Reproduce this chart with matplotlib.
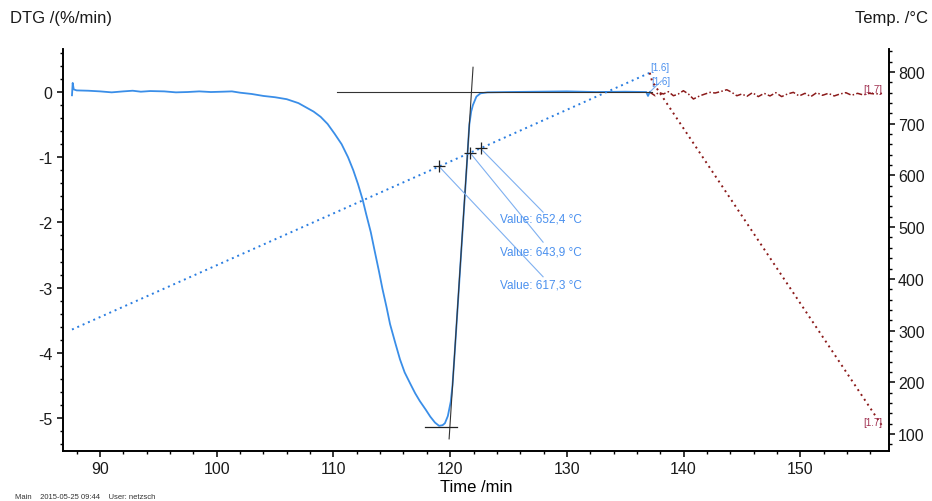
import matplotlib
matplotlib.use("Agg")
import matplotlib.pyplot as plt
from matplotlib.ticker import MultipleLocator

plt.rcParams['font.family'] = ['Liberation Sans', 'DejaVu Sans']
plt.rcParams['axes.unicode_minus'] = False

# DTG, segmento 1.6 (calentamiento)
time_16 = [87.60, 87.66, 87.75, 88.0, 89.0, 90.0, 91.0, 92.0, 92.8, 93.5, 94.3, 95.5,
           96.5, 97.5, 98.5, 99.5, 100.5, 101.3, 102.0, 103.0, 104.0, 105.0, 106.0,
           107.0, 107.6, 108.3, 108.9, 109.5, 110.1, 110.7, 111.25, 111.7, 112.1,
           112.5, 112.8, 113.2, 113.5, 113.9, 114.2, 114.55, 114.85, 115.3, 115.7,
           116.1, 116.6, 117.0, 117.4, 117.9, 118.3, 118.7, 119.05, 119.35, 119.55,
           119.8, 120.05, 120.2, 120.39, 120.75, 121.11, 121.47, 121.64, 121.8,
           121.95, 122.25, 122.6, 123.2, 125.0, 127.5, 130.0, 132.5, 135.0, 136.8,
           136.95, 137.1]
dtg_16 = [-0.05, 0.14, 0.04, 0.025, 0.02, 0.01, -0.005, 0.01, 0.02, 0.005, 0.015, 0.01,
          -0.005, 0.0, 0.01, 0.0, 0.005, 0.01, -0.01, -0.03, -0.06, -0.08, -0.11,
          -0.17, -0.23, -0.30, -0.38, -0.49, -0.64, -0.80, -1.0, -1.2, -1.41,
          -1.65, -1.87, -2.15, -2.41, -2.75, -3.02, -3.30, -3.56, -3.85, -4.1,
          -4.30, -4.48, -4.62, -4.74, -4.87, -4.98, -5.07, -5.12, -5.11, -5.08,
          -4.97, -4.75, -4.5, -4.0, -3.0, -2.0, -1.0, -0.5, -0.3,
          -0.2, -0.07, -0.02, -0.005, 0.0, 0.005, 0.01, 0.0, 0.005, 0.0,
          -0.06, 0.0]

# Temperatura, segmento 1.6
temp_time_16 = [87.6, 119.05, 121.7, 122.6, 137.1]
temp_16 = [302.0, 617.3, 643.9, 652.4, 798.5]

# DTG, segmento 1.7 (enfriamiento)
time_17 = [137.13, 137.56, 137.84, 138.27, 138.70, 139.13, 139.55, 139.98, 140.41,
           140.84, 141.41, 141.84, 142.27, 142.70, 143.13, 143.70, 144.13, 144.56,
           144.99, 145.42, 145.9, 146.4, 146.9, 147.4, 147.9, 148.4, 148.9, 149.4,
           149.9, 150.4, 150.9, 151.4, 151.9, 152.4, 152.9, 153.4, 153.9, 154.4,
           154.9, 155.4, 155.9, 156.4, 157.0]
dtg_17 = [-0.005, -0.057, -0.005, -0.03, 0.005, -0.057, -0.03, 0.02, -0.03,
          -0.107, -0.057, -0.03, -0.005, -0.015, 0.005, 0.035, -0.005, -0.057,
          -0.03, -0.066, -0.01, -0.07, -0.02, -0.06, -0.01, -0.07, -0.03, -0.005,
          -0.06, -0.02, -0.07, -0.01, -0.05, -0.02, -0.06, -0.03, -0.01, -0.05,
          -0.02, -0.045, -0.02, -0.03, -0.02]

# Temperatura, segmento 1.7
temp_time_17 = [137.1, 137.3, 157.0]
temp_17 = [798.5, 782.0, 116.0]

# Puntos evaluados (pico, onset, final)
mark_time = [119.05, 121.7, 122.6]
mark_temp = [617.3, 643.9, 652.4]
mark_text = ['Value: 617,3 °C', 'Value: 643,9 °C', 'Value: 652,4 °C']

blue = '#3a8ee8'
blue_t = '#2a7de0'
red = '#8b1a1a'

fig = plt.figure(figsize=(9.32, 5.02), dpi=100)
ax = fig.add_axes([0.0676, 0.0996, 0.8863, 0.8008])
ax2 = ax.twinx()

# Curvas
ax.plot(time_16, dtg_16, color=blue, lw=1.3, zorder=3)
ax.plot(time_17, dtg_17, color=red, lw=1.1, linestyle=(0, (4, 1.5, 1, 1.5)), zorder=3)
ax2.plot(temp_time_16, temp_16, color=blue_t, lw=1.4, linestyle=(0, (1, 2)))
ax2.plot(temp_time_17, temp_17, color=red, lw=1.4, linestyle=(0, (1, 2)))

# Construcción del onset: línea base, tangente y cruz del pico
ax.plot([110.3, 137.3], [0.0, 0.0], color='#333333', lw=0.8, zorder=4)
ax.plot([119.91, 121.96], [-5.32, 0.38], color='#333333', lw=0.8, zorder=4)
ax.plot([117.85, 120.59], [-5.14, -5.14], color='#222222', lw=0.9, zorder=4)

# Marcadores y etiquetas de valores
ax2.plot(mark_time, mark_temp, linestyle='none', marker='+', color='#222222',
         markersize=9, mew=0.9, zorder=5)
line_end = [(127.96, 404), (127.96, 471), (127.96, 529)]
text_pos = [(124.28, 390), (124.28, 452), (124.28, 516)]
for t, T, (lx, ly), (tx, ty), s in zip(mark_time, mark_temp, line_end, text_pos, mark_text):
    ax2.plot([t, lx], [T, ly], color='#7fb0f0', lw=0.8)
    ax2.text(tx, ty, s, color='#4a90ee', fontsize=8.5, ha='left', va='center')

# Etiquetas de segmentos
ax2.text(137.15, 800, '[1.6]', color='#4a90ee', fontsize=7, ha='left', va='bottom')
ax.text(137.2, 0.09, '[1.6]', color='#4a90ee', fontsize=7, ha='left', va='bottom')
ax.plot([137.1, 138.1], [0.0, 0.17], color='#7fb0f0', lw=0.8)
ax.text(157.05, -0.03, '[1.7]', color='#a03050', fontsize=7, ha='right', va='bottom')
ax2.text(157.05, 113, '[1.7]', color='#a03050', fontsize=7, ha='right', va='bottom')

# Ejes
ax.set_xlim(86.83, 157.6)
ax.set_ylim(-5.506, 0.66)
ax2.set_ylim(67.1, 844.5)

ax.xaxis.set_major_locator(MultipleLocator(10))
ax.xaxis.set_minor_locator(MultipleLocator(2))
ax.yaxis.set_major_locator(MultipleLocator(1))
ax.yaxis.set_minor_locator(MultipleLocator(0.2))
ax2.yaxis.set_major_locator(MultipleLocator(100))
ax2.yaxis.set_minor_locator(MultipleLocator(20))

for a in (ax, ax2):
    a.spines['top'].set_visible(False)
    for sp in a.spines.values():
        sp.set_linewidth(1.2)
    a.tick_params(which='major', direction='out', length=4.5, width=1.1,
                  labelsize=11.5, colors='black', labelcolor='#1a1a1a')
    a.tick_params(which='minor', direction='out', length=2.5, width=1.0)
ax.tick_params(axis='x', pad=3)
ax.tick_params(axis='y', pad=3)
ax2.tick_params(axis='y', pad=2)

ax.set_xlabel('Time /min', fontsize=12, labelpad=2)
fig.text(0.011, 0.964, 'DTG /(%/min)', fontsize=12, ha='left', va='center', color='#1a1a1a')
fig.text(0.996, 0.964, 'Temp. /°C', fontsize=12, ha='right', va='center', color='#1a1a1a')
fig.text(0.016, 0.002, 'Main    2015-05-25 09:44    User: netzsch', fontsize=5.5,
         ha='left', va='bottom', color='#333333')

fig.savefig('out.png', dpi=100)
